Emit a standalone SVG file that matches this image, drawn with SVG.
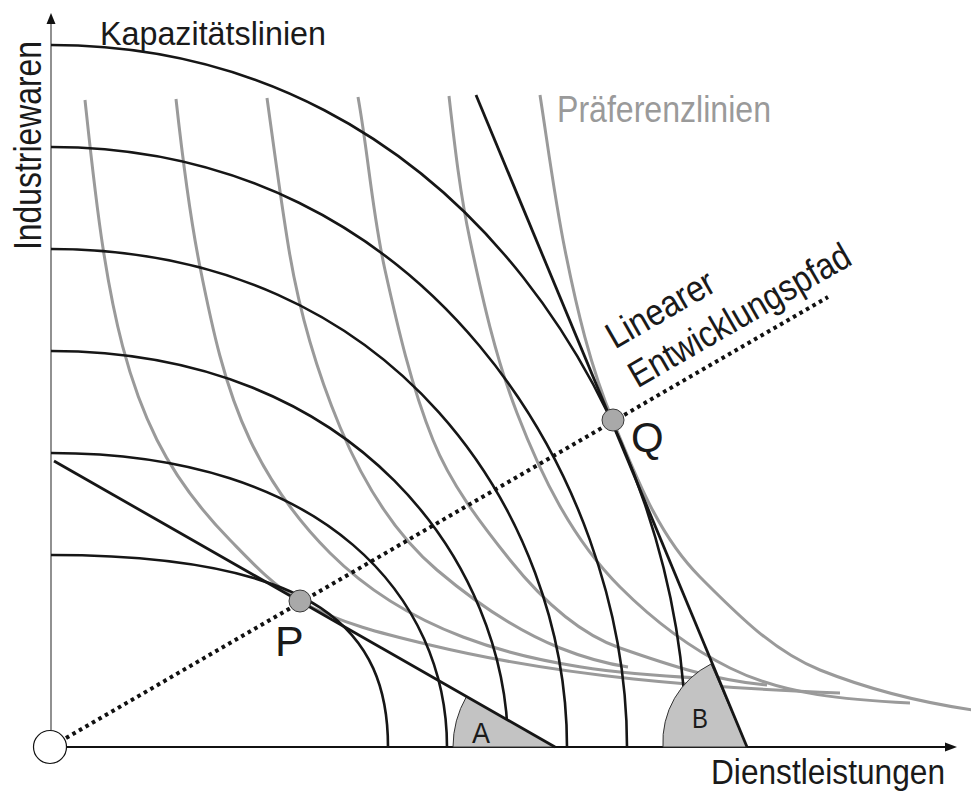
<svg xmlns="http://www.w3.org/2000/svg" width="971" height="796" viewBox="0 0 971 796">
<style>
.cap{fill:none;stroke:#161616;stroke-width:2.6}
.pref{fill:none;stroke:#9a9a9a;stroke-width:3}
.tan{fill:none;stroke:#161616;stroke-width:2.8}
.wedge{fill:#c3c3c3;stroke:#333;stroke-width:1}
.pt{fill:#a9a9a9;stroke:#3a3a3a;stroke-width:1}
.lbl{font-family:"Liberation Sans Narrow","Liberation Sans",Arial,sans-serif;fill:#1a1a1a}
.big{font-family:"Liberation Sans",Arial,sans-serif;fill:#1a1a1a}
</style>
<rect width="971" height="796" fill="#fff"/>
<g id="axes">
<line x1="51" y1="730" x2="51" y2="22" stroke="#555" stroke-width="1.3"/>
<polygon points="51,13 46.5,24 55.5,24" fill="#111"/>
<line x1="66" y1="747" x2="947" y2="747" stroke="#111" stroke-width="1.8"/>
<polygon points="957,747 945,742.5 945,751.5" fill="#111"/>
</g>
<g id="praeferenzlinien">
<path class="pref" d="M85,100 C90.3,149.4 95.4,198.9 103,248 C113.1,313.7 127.3,380.6 157,440 C175.5,476.9 201.1,510.5 230,540 C251.6,562.1 273.2,585.7 300,601 C339.7,623.6 385.6,634.4 430,645 C563.7,677.1 702.5,687.5 840,693"/>
<path class="pref" d="M176,99 C182.2,155.3 188.9,211.5 200,267 C211.8,325.9 224.2,385.8 250,440 C269.9,481.7 297.3,520.3 330,553 C367,590 414,618.4 463,637 C538,665.5 619.9,674 700,678"/>
<path class="pref" d="M267,98 C274.1,148.7 280.6,199.5 289,250 C299.1,310.5 316.4,370.3 340,427 C362.2,480.2 393.1,532.7 437,570 C474,601.4 515,630 560,648 C581.8,656.7 604.8,663.5 628,667"/>
<path class="pref" d="M358,97 C368.3,154.5 372.3,213 385,270 C397.8,327.5 411.1,385.3 433,440 C450.6,484.1 480.3,522.9 510,560 C539.4,596.7 575.6,632.5 620,648 C667.7,664.7 716.7,681 767,685"/>
<path class="pref" d="M449,96 C454.5,144.2 459.9,192.6 470,240 C482.4,298.5 495.5,357.2 517,413 C541.2,475.9 572.3,539.3 620,587 C652.2,619.2 689.3,647.7 730,668 C784.6,695.3 849,700 910,703"/>
<path class="pref" d="M540,95 C548,146.7 554.7,198.7 565,250 C576.6,308.1 590.2,366.4 613,421 C635.9,475.9 657.9,534.9 700,577 C735.8,612.8 773,651.2 820,670 C868.3,689.3 919.4,702.7 980,711"/>
</g>
<g id="kapazitaetslinien">
<path class="cap" d="M51,45 C463.8,45 686,431.1 686,747"/>
<path class="cap" d="M51,147 C425.4,147 627,477 627,747"/>
<path class="cap" d="M51,249 C396.7,249 567,517.9 567,747"/>
<path class="cap" d="M51,351 C357.2,351 508,564.8 508,747"/>
<path class="cap" d="M51,453 C328.2,453 447,600 447,747"/>
<path class="cap" d="M51,555 C320.6,555 388,631.8 388,747"/>
</g>
<g id="winkel-A">
<path class="wedge" d="M555,747 L453,747 A102,102 0 0 1 466.5,696.5 Z"/>
<text class="lbl" x="472" y="743" font-size="29" textLength="18" lengthAdjust="spacingAndGlyphs">A</text>
</g>
<g id="winkel-B">
<path class="wedge" d="M747,747 L663,747 A87,87 0 0 1 711,664 Z"/>
<text class="lbl" x="692" y="728" font-size="28" textLength="16" lengthAdjust="spacingAndGlyphs">B</text>
</g>
<g id="tangenten">
<line class="tan" x1="54" y1="461" x2="555" y2="747"/>
<line class="tan" x1="476" y1="95" x2="747" y2="747"/>
</g>
<g id="entwicklungspfad">
<line x1="66" y1="738" x2="828" y2="297" stroke="#111" stroke-width="4" stroke-dasharray="3.6 3.9"/>
</g>
<g id="ursprung"><circle cx="50" cy="747" r="16.5" fill="#fff" stroke="#111" stroke-width="1.2"/></g>
<g id="punkt-P">
<circle class="pt" cx="300" cy="601" r="11"/>
<text class="big" x="275" y="656" font-size="43">P</text>
</g>
<g id="punkt-Q">
<circle class="pt" cx="613" cy="420" r="11"/>
<text class="big" x="631" y="452" font-size="42">Q</text>
</g>
<g id="labels">
<text class="big" x="100" y="45" font-size="33" textLength="226" lengthAdjust="spacingAndGlyphs">Kapazitätslinien</text>
<text class="lbl" x="557" y="122" font-size="36" style="fill:#9a9a9a" textLength="214" lengthAdjust="spacingAndGlyphs">Präferenzlinien</text>
<text class="lbl" transform="translate(41,250) rotate(-90)" x="0" y="0" font-size="38" textLength="209" lengthAdjust="spacingAndGlyphs">Industriewaren</text>
<text class="lbl" x="711" y="784" font-size="35" textLength="234" lengthAdjust="spacingAndGlyphs">Dienstleistungen</text>
<g transform="translate(640,387) rotate(-30)">
<text class="lbl" x="-3" y="-45" font-size="37" textLength="119" lengthAdjust="spacingAndGlyphs">Linearer</text>
<text class="lbl" x="-3" y="0" font-size="37" textLength="250" lengthAdjust="spacingAndGlyphs">Entwicklungspfad</text>
</g>
</g>
</svg>
